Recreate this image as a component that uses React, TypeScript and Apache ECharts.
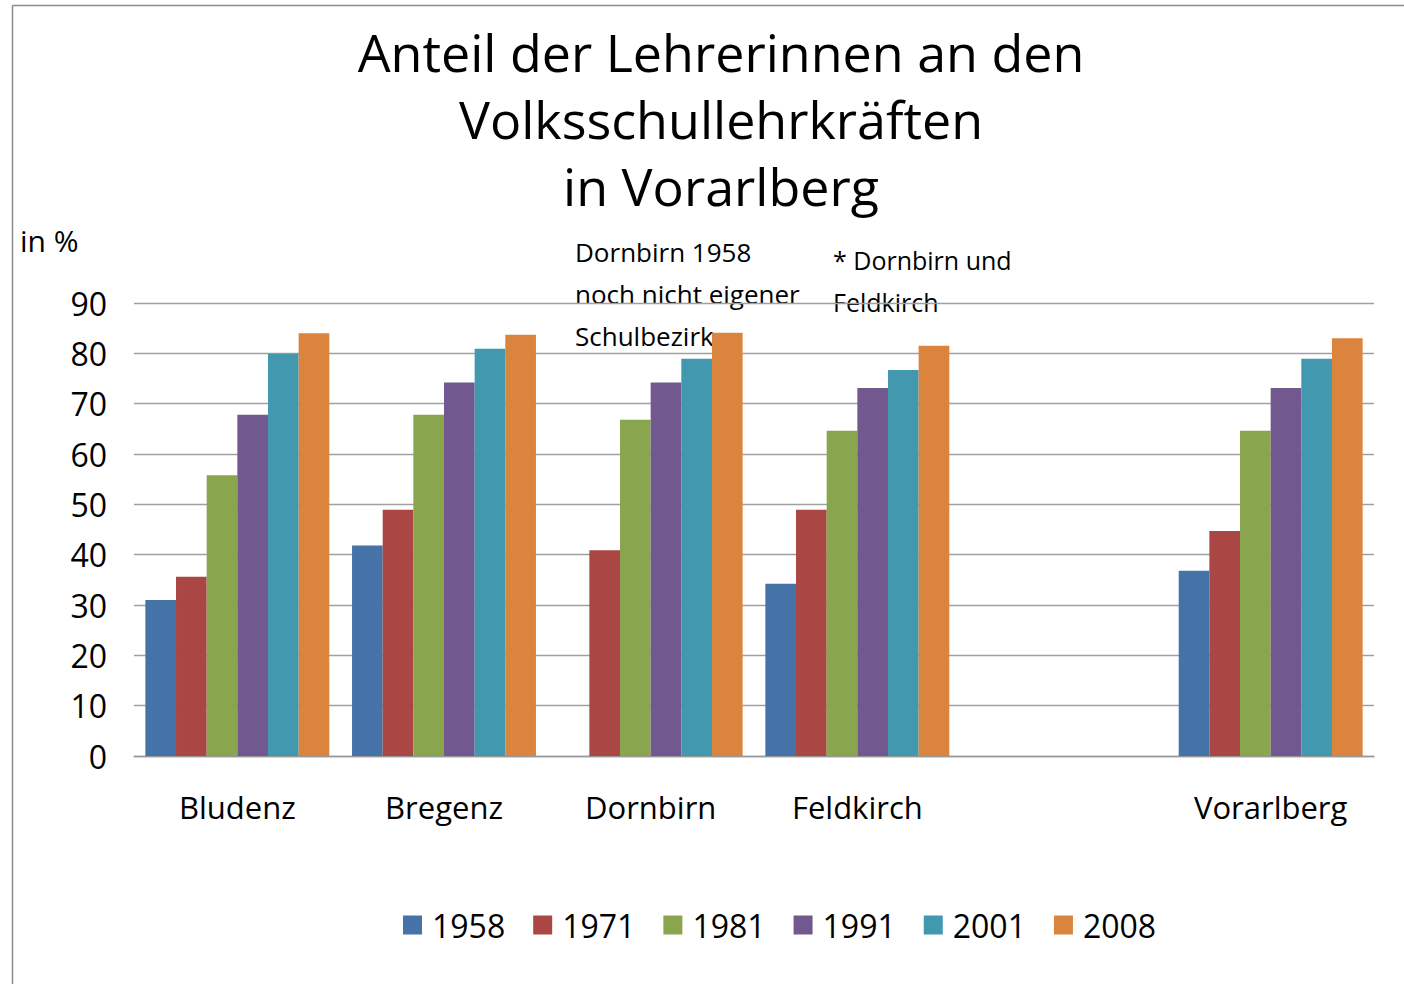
import React, { useEffect, useRef } from "react";
import * as echarts from "echarts";

const categories = ["Bludenz", "Bregenz", "Dornbirn", "Feldkirch", "", "Vorarlberg"];
const years = ["1958", "1971", "1981", "1991", "2001", "2008"];
const v1958 = [31.0, 41.8, null, 34.2, null, 36.8];
const v1971 = [35.6, 48.9, 40.9, 48.9, null, 44.7];
const v1981 = [55.8, 67.8, 66.8, 64.6, null, 64.6];
const v1991 = [67.8, 74.2, 74.2, 73.1, null, 73.1];
const v2001 = [79.9, 80.9, 78.9, 76.7, null, 78.9];
const v2008 = [84.0, 83.7, 84.1, 81.5, null, 83.0];
const seriesValues = [v1958, v1971, v1981, v1991, v2001, v2008];
const colors = ["#4572A7", "#AA4643", "#89A54E", "#71588F", "#4198AF", "#DB843D"];
const titleLines = ["Anteil der Lehrerinnen an den", "Volksschullehrkräften", "in Vorarlberg"];
const noteLeft = ["Dornbirn 1958", "noch nicht eigener", "Schulbezirk"];
const noteRight = ["* Dornbirn und", "Feldkirch"];

const FONT = "'Open Sans', 'Noto Sans', sans-serif";

export default function App() {
  const ref = useRef<HTMLDivElement>(null);
  useEffect(() => {
    document.body.style.margin = "0";
    const chart = echarts.init(ref.current!, undefined, { renderer: "svg" });
    const graphics: any[] = [];
    graphics.push({
      type: "line",
      shape: { x1: 12.5, y1: 5.5, x2: 1404, y2: 5.5 },
      style: { stroke: "#8c8c8c", lineWidth: 1.5 },
    });
    graphics.push({
      type: "line",
      shape: { x1: 12.5, y1: 5.5, x2: 12.5, y2: 984 },
      style: { stroke: "#8c8c8c", lineWidth: 1.5 },
    });
    titleLines.forEach((t, i) => {
      graphics.push({
        type: "text",
        x: 721,
        y: 51 + i * 67,
        style: {
          text: t,
          fontSize: 52,
          fontFamily: FONT,
          fill: "#000",
          textAlign: "center",
          textVerticalAlign: "middle",
        },
      });
    });
    graphics.push({
      type: "text",
      x: 20,
      y: 240,
      style: { text: "in %", fontSize: 30, fontFamily: FONT, fill: "#000", textVerticalAlign: "middle" },
    });
    noteLeft.forEach((t, i) => {
      graphics.push({
        type: "text",
        x: 575,
        y: 252 + i * 42,
        style: { text: t, fontSize: 26, fontFamily: FONT, fill: "#000", textVerticalAlign: "middle" },
      });
    });
    noteRight.forEach((t, i) => {
      graphics.push({
        type: "text",
        x: 833,
        y: 260 + i * 42,
        style: { text: t, fontSize: 25, fontFamily: FONT, fill: "#000", textVerticalAlign: "middle" },
      });
    });

    chart.setOption({
      animation: false,
      color: colors,
      grid: { left: 134, right: 30, top: 303, bottom: 228, containLabel: false },
      legend: {
        data: years,
        left: 398,
        top: 904,
        itemWidth: 19,
        itemHeight: 19,
        itemGap: 28,
        icon: "rect",
        textStyle: {
          fontSize: 32,
          fontFamily: FONT,
          color: "#000",
          lineHeight: 32,
          padding: [0, 0, 0, 5],
        },
      },
      xAxis: {
        type: "category",
        data: categories,
        axisLine: { lineStyle: { color: "#999", width: 1.3 } },
        axisTick: { show: false },
        axisLabel: {
          fontSize: 31,
          fontFamily: FONT,
          color: "#000",
          margin: 35,
          lineHeight: 32,
          interval: 0,
        },
      },
      yAxis: {
        type: "value",
        min: 0,
        max: 90,
        interval: 10,
        axisLine: { show: false },
        axisTick: { show: false },
        axisLabel: { fontSize: 32, fontFamily: FONT, color: "#000", margin: 27 },
        splitLine: { lineStyle: { color: "#a0a0a0", width: 1.3 } },
      },
      series: years.map((y, i) => ({
        name: y,
        type: "bar",
        data: seriesValues[i],
        barGap: "0%",
        barCategoryGap: "11%",
        itemStyle: { color: colors[i] },
      })),
      graphic: graphics,
    });
    return () => chart.dispose();
  }, []);
  return (
    <div
      ref={ref}
      style={{ position: "fixed", left: 0, top: 0, width: 1404, height: 984, background: "#fff" }}
    />
  );
}
